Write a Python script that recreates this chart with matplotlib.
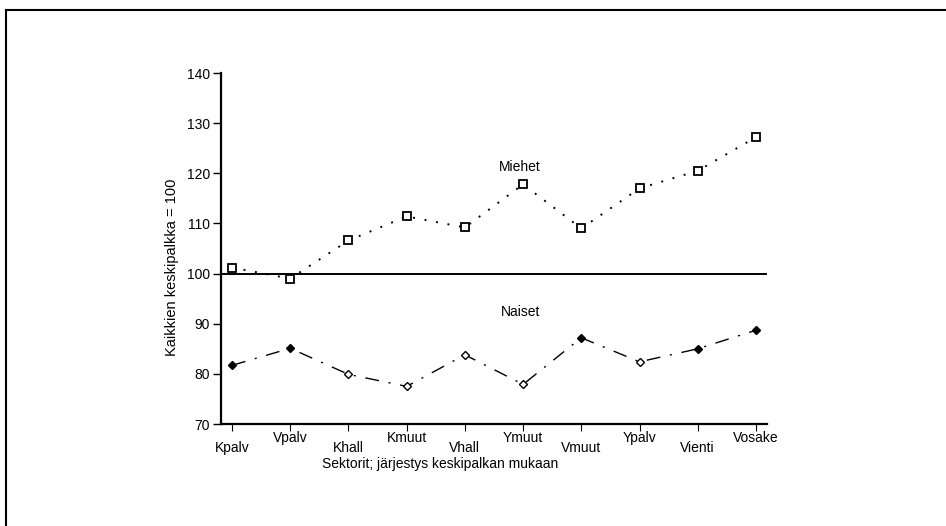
import matplotlib.pyplot as plt
from matplotlib.lines import Line2D

# Sectors, ordered by average pay
sectors = ["Kpalv", "Vpalv", "Khall", "Kmuut", "Vhall",
           "Ymuut", "Vmuut", "Ypalv", "Vienti", "Vosake"]

# Index: all employees' average pay = 100
miehet = [101.2, 99.0, 106.6, 111.4, 109.2, 117.8, 109.0, 117.0, 120.5, 127.2]
naiset = [81.7, 85.1, 79.9, 77.5, 83.8, 77.9, 87.2, 82.4, 85.0, 88.7]
naiset_filled = [True, True, False, False, False, False, True, False, True, True]

plt.rcParams['font.family'] = ['Liberation Sans', 'DejaVu Sans']

fig = plt.figure(figsize=(9.46, 5.26), dpi=100)
ax = fig.add_axes([0.2336, 0.1939, 0.5772, 0.6673])

x = list(range(len(sectors)))

# reference line at 100
ax.axhline(100, color='black', lw=1.4, zorder=1)

# Miehet: dotted line with open squares
ax.plot(x, miehet, color='black', lw=1.4, linestyle=(0, (1, 5)),
        marker='s', markersize=5.5, markerfacecolor='white',
        markeredgecolor='black', markeredgewidth=1.3, zorder=3)

# Naiset: dash-dot line with small diamonds
ax.plot(x, naiset, color='black', lw=1.0, linestyle=(0, (10, 7, 1.5, 7)), zorder=2)
for xi, yi, filled in zip(x, naiset, naiset_filled):
    ax.plot(xi, yi, marker='D', markersize=3.8,
            markerfacecolor='black' if filled else 'white',
            markeredgecolor='black', markeredgewidth=1.0, zorder=3)

ax.text(4.95, 121.3, "Miehet", ha='center', va='center', fontsize=10)
ax.text(4.95, 92.3, "Naiset", ha='center', va='center', fontsize=10)

ax.set_xlim(-0.19, 9.19)
ax.set_ylim(70, 140)
ax.set_yticks([70, 80, 90, 100, 110, 120, 130, 140])
ax.tick_params(axis='y', direction='out', length=6, width=1, labelsize=10, pad=2)

# staggered category labels: odd ones high, even ones low
ax.set_xticks(x[1::2])
ax.set_xticklabels(sectors[1::2])
ax.set_xticks(x[0::2], minor=True)
ax.set_xticklabels(sectors[0::2], minor=True)
ax.tick_params(axis='x', which='major', direction='out', length=5, width=0.8,
               labelsize=10, pad=0)
ax.tick_params(axis='x', which='minor', direction='out', length=5, width=0.8,
               labelsize=10, pad=7.5)

for side in ['top', 'right']:
    ax.spines[side].set_visible(False)
ax.spines['left'].set_linewidth(1.6)
ax.spines['bottom'].set_linewidth(1.6)

ax.set_xlabel("Sektorit; järjestys keskipalkan mukaan", fontsize=10)
ax.xaxis.set_label_coords(0.401, -0.094)
ax.set_ylabel("Kaikkien keskipalkka = 100", fontsize=10.5)
ax.yaxis.set_label_coords(-0.077, 0.447)

# page frame (top and left edges only)
fig.add_artist(Line2D([0.0063, 1.0], [0.981, 0.981], color='black', lw=1.5))
fig.add_artist(Line2D([0.0063, 0.0063], [0.0, 0.981], color='black', lw=1.5))

fig.savefig("out.png", dpi=100, facecolor='white')
